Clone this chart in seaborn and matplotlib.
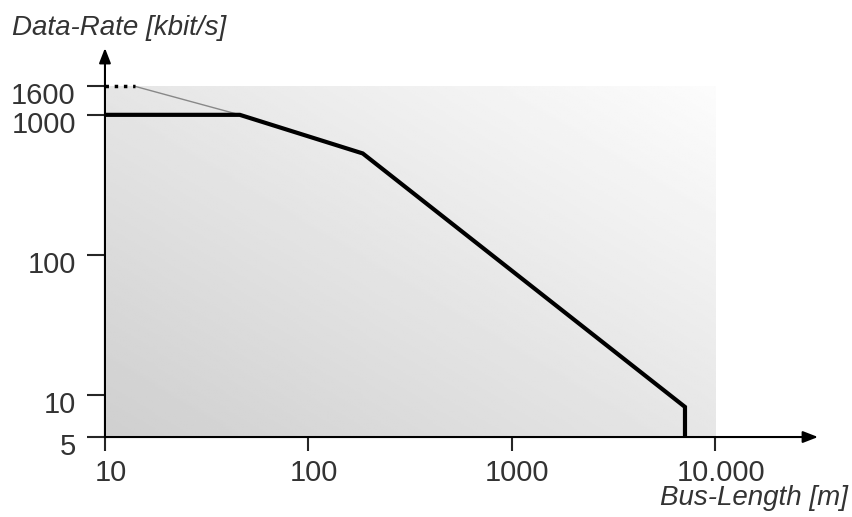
import numpy as np
import pandas as pd
import seaborn as sns
import matplotlib.pyplot as plt
from matplotlib.transforms import ScaledTranslation

sns.set_style('white')
plt.rcParams['font.family'] = ['Liberation Sans', 'DejaVu Sans']

# data
bus_length = [10, 46, 185, 7100, 7100]        # m
data_rate = [1000, 1000, 530, 8.2, 5]         # kbit/s
dot_length = [10, 14]
dot_rate = [1600, 1600]
thin_length = [14, 46]
thin_rate = [1600, 1000]

x_ticks = [10, 100, 1000, 10000]
x_labels = ['10', '100', '1000', '10.000']
y_ticks = [5, 10, 100, 1000, 1600]
y_labels = ['5', '10', '100', '1000', '1600']

x_lim = (10, 32000)
y_lim = (5, 3000)

fig = plt.figure(figsize=(8.52, 5.17), dpi=100)
ax = fig.add_axes([0.1232, 0.1547, 0.8369, 0.7524])
ax.set_xscale('log')
ax.set_yscale('log')
ax.set_xlim(*x_lim)
ax.set_ylim(*y_lim)

# gradient box (darker at bottom-left) up to 10.000 m / 1600 kbit/s
fx = np.log10(10000 / x_lim[0]) / np.log10(x_lim[1] / x_lim[0])
fy = np.log10(1600 / y_lim[0]) / np.log10(y_lim[1] / y_lim[0])
u, v = np.meshgrid(np.linspace(0, 1, 200), np.linspace(0, 1, 200))
shade = (207 + 23 * u + 22 * v) / 255
ax.imshow(shade, cmap='gray', vmin=0, vmax=1, origin='lower', aspect='auto',
          extent=(0, fx, 0, fy), transform=ax.transAxes, zorder=0)

df = pd.DataFrame({'length': bus_length, 'rate': data_rate})
sns.lineplot(data=df, x='length', y='rate', ax=ax, color='black', lw=3,
             sort=False, estimator=None, solid_joinstyle='miter', zorder=3)
ax.plot(dot_length, dot_rate, color='black', lw=2.5, ls=':', zorder=3)
ax.plot(thin_length, thin_rate, color='#888888', lw=1, zorder=2)

# axes with arrows
for s in ax.spines.values():
    s.set_visible(False)
ax.annotate('', xy=(1, 0), xytext=(0, 0), xycoords='axes fraction',
            arrowprops=dict(arrowstyle='-|>,head_length=0.9,head_width=0.35',
                            color='black', lw=1.5, shrinkA=0, shrinkB=0))
ax.annotate('', xy=(0, 1), xytext=(0, 0), xycoords='axes fraction',
            arrowprops=dict(arrowstyle='-|>,head_length=0.9,head_width=0.35',
                            color='black', lw=1.5, shrinkA=0, shrinkB=0))

ax.set_xticks(x_ticks)
ax.set_xticklabels(x_labels)
ax.set_yticks(y_ticks)
ax.set_yticklabels(y_labels)
ax.minorticks_off()
ax.tick_params(axis='x', length=10, width=1.5, pad=6, labelsize=21,
               labelcolor='#333333', bottom=True)
ax.tick_params(axis='y', length=13, width=1.5, pad=8, labelsize=21,
               labelcolor='#333333', left=True)
offset = ScaledTranslation(0, -5 / 72, fig.dpi_scale_trans)
for lab in ax.get_yticklabels():
    lab.set_transform(lab.get_transform() + offset)
offx = ScaledTranslation(4 / 72, 0, fig.dpi_scale_trans)
for lab in ax.get_xticklabels():
    lab.set_transform(lab.get_transform() + offx)
ax.set_xlabel('')
ax.set_ylabel('')

fig.text(12 / 852, 1 - 35 / 517, 'Data-Rate [kbit/s]', fontsize=20,
         style='italic', color='#333333', va='baseline', ha='left')
fig.text(848 / 852, 12 / 517, 'Bus-Length [m]', fontsize=20,
         style='italic', color='#333333', va='baseline', ha='right')

fig.savefig('out.png', dpi=100, facecolor='white')
